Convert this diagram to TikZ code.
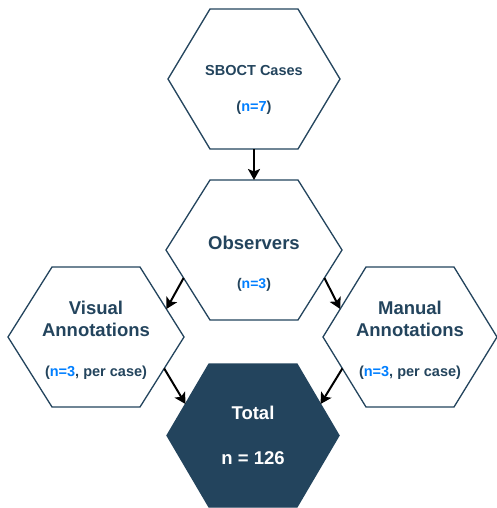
\documentclass[tikz,border=0pt]{standalone}
\usepackage{fontspec}
\setmainfont{Liberation Sans}
\usetikzlibrary{arrows.meta,calc}
\definecolor{navy}{HTML}{23445D}
\definecolor{nblue}{HTML}{007FFF}
\newcommand{\drawhex}[6]{%
 \coordinate (#1-l) at ({#2-#4},{#3});
 \coordinate (#1-tl) at ({#2-44},{#3-#5});
 \coordinate (#1-tr) at ({#2+44},{#3-#5});
 \coordinate (#1-r) at ({#2+#4},{#3});
 \coordinate (#1-br) at ({#2+44},{#3+#5});
 \coordinate (#1-bl) at ({#2-44},{#3+#5});
 \coordinate (#1-t) at ({#2},{#3-#5});
 \coordinate (#1-b) at ({#2},{#3+#5});
 \draw[#6] (#1-l) -- (#1-tl) -- (#1-tr) -- (#1-r) -- (#1-br) -- (#1-bl) -- cycle;
}
\tikzset{
 hexbox/.style={draw=navy, line width=1.3pt, fill=white, line join=miter},
 hexdark/.style={draw=navy, line width=1.3pt, fill=navy},
 flow/.style={line width=2pt, -{Stealth[length=11pt,width=12pt,inset=2.5pt]}},
 big/.style={font=\bfseries\fontsize{18.5}{22}\selectfont, text=navy, align=center},
 mid/.style={font=\bfseries\fontsize{14.5}{16}\selectfont, text=navy, align=center},
 small/.style={font=\bfseries\fontsize{14}{16}\selectfont, text=navy, align=center}
}
\begin{document}
\begin{tikzpicture}[x=1pt,y=-1pt]
\useasboundingbox (0,0) rectangle (496,508);
\fill[white] (0,0) rectangle (496,508);
\drawhex{sb}{254}{79}{86}{70}{hexbox}
\drawhex{ob}{254}{250}{88}{70}{hexbox}
\drawhex{vi}{96}{337}{88}{70}{hexbox}
\drawhex{ma}{410}{337}{87}{70}{hexbox}
\drawhex{to}{253}{435.5}{86}{71.5}{hexdark}
% connectors
\draw[flow] (sb-b) -- (ob-t);
\draw[flow] ($(ob-l)!0.4!(ob-bl)$) -- ($(vi-tr)!0.6!(vi-r)$);
\draw[flow] ($(ob-r)!0.4!(ob-br)$) -- ($(ma-tl)!0.6!(ma-l)$);
\draw[flow] ($(vi-r)!0.45!(vi-br)$) -- ($(to-tl)!0.56!(to-l)$);
\draw[flow] ($(ma-l)!0.45!(ma-bl)$) -- ($(to-tr)!0.56!(to-r)$);
% texts
\node[mid] (sbt) at (254,71) {SBOCT Cases};
\node[mid] (sbn) at (254,108) {(\textcolor{nblue}{n=7})};
\node[big] (obt) at (254,243) {Observers};
\node[small] (obn) at (254,285) {(\textcolor{nblue}{n=3})};
\node[big] (vit) at (96,319) {Visual\\Annotations};
\node[mid] (vin) at (96,373) {(\textcolor{nblue}{n=3}, per case)};
\node[big] (mat) at (410,319) {Manual\\Annotations};
\node[mid] (man) at (410,373) {(\textcolor{nblue}{n=3}, per case)};
\node[big, text=white] (tot) at (253,413) {Total};
\node[big, text=white] (ton) at (253,458) {n = 126};
\end{tikzpicture}
\end{document}
